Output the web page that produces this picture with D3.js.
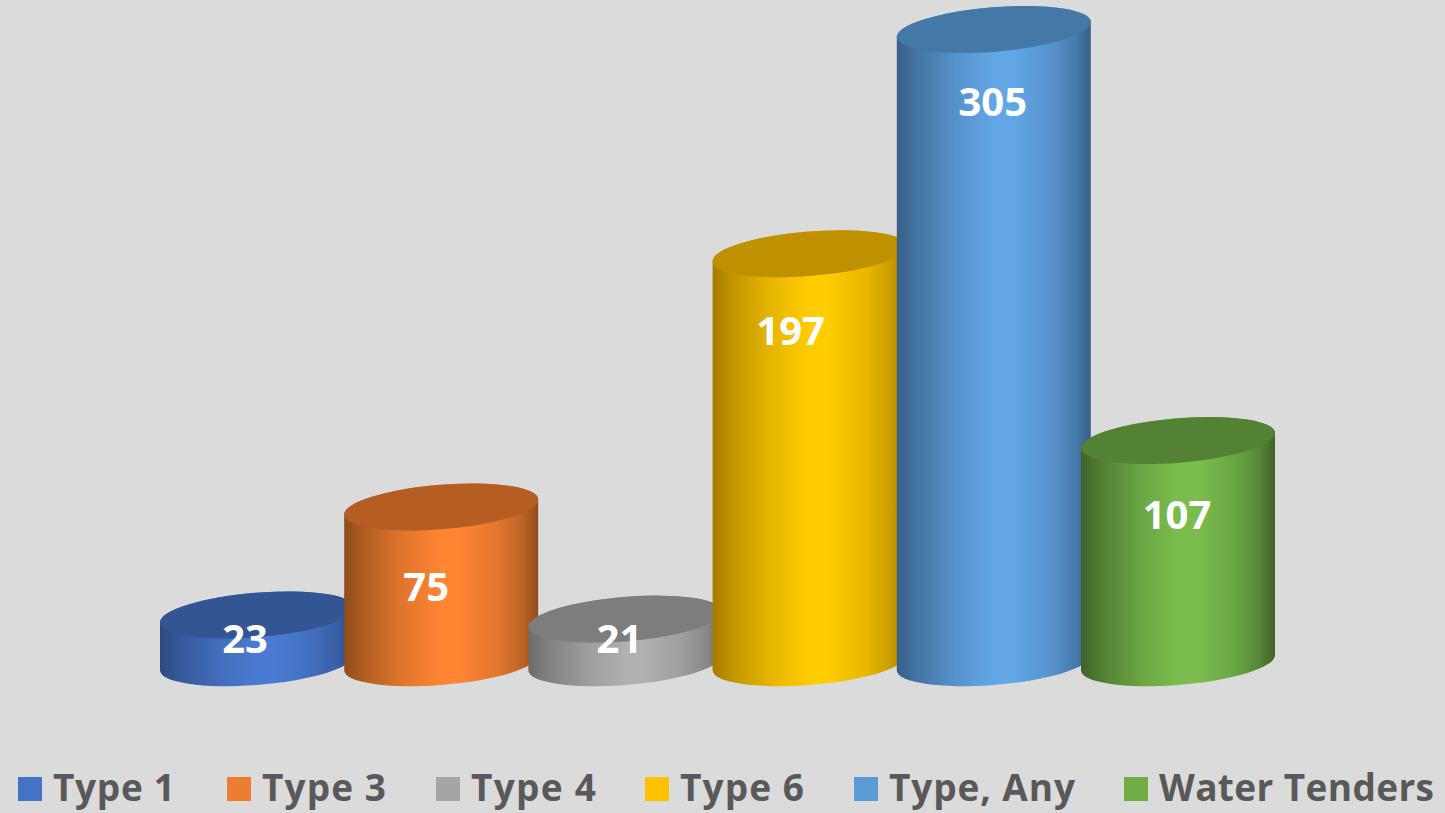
<!doctype html>
<html>
<head>
    <meta charset="UTF-8">
    <title>cylinders</title>
    <script src="https://d3js.org/d3.v7.min.js"></script>
    <style>
        html, body { margin: 0; padding: 0; background: #dbdbdb; }
        svg { display: block; }
        text { font-family: "Open Sans", sans-serif; font-weight: bold; }
    </style>
</head>
<body>
<svg width="1445" height="813"></svg>
<script>
    var categories = ["Type 1", "Type 3", "Type 4", "Type 6", "Type, Any", "Water Tenders"];
    var values = [23, 75, 21, 197, 305, 107];

    // side gradient runs dark > light > dark, top face is flat
    var sideLight = ["#4a7ad2", "#ff8533", "#b0b0b0", "#ffcc00", "#62a6e6", "#7abd4e"];
    var sideDark = ["#2c4a80", "#8f4c1c", "#6c6c6c", "#a67c00", "#365f85", "#3f6228"];
    var topFill = ["#335593", "#b55d22", "#7d7d7d", "#bf9000", "#4478a6", "#548235"];
    var swatch = ["#4472c4", "#ed7d31", "#a5a5a5", "#ffc000", "#5b9bd5", "#70ad47"];

    // layout
    var labelDx = [-12, -15, -6, -19, -1, -1];
    var labelDy = [24, 80, 19, 77, 72, 74];
    var legendX = [18, 227, 436, 645, 854, 1124];
    var legendW = [122, 124, 125, 124, 186, 275];

    var hx = 97, hy = 23.5, tilt = 7.5;   // half width, half height, tangent point offset
    var theta = 0.5 * Math.atan2(2 * tilt * hx, hx * hx - hy * hy);
    var d2 = (hx * hx - hy * hy) / Math.cos(2 * theta);
    var s2 = hx * hx + hy * hy;
    var rx = Math.sqrt((s2 + d2) / 2), ry = Math.sqrt((s2 - d2) / 2);
    var deg = -theta * 180 / Math.PI;

    var svg = d3.select("svg");
    var x = d3.scalePoint().domain(categories).range([257, 1178]);
    var y = d3.scaleLinear().domain([0, 305]).range([662.7, 29.5]);

    var defs = svg.append("defs");
    categories.forEach(function(c, i) {
        var g = defs.append("linearGradient").attr("id", "side" + i);
        var mix = d3.interpolateRgb(sideDark[i], sideLight[i]);
        [[0, 0], [0.1, 0.3], [0.3, 0.72], [0.5, 1], [0.6, 1], [0.8, 0.72], [0.92, 0.4], [1, 0]].forEach(function(s) {
            g.append("stop").attr("offset", s[0]).attr("stop-color", mix(s[1]));
        });
    });

    function sidePath(cx, yTop, yBase) {
        return "M" + (cx - hx) + "," + (yTop + tilt)
            + "L" + (cx - hx) + "," + (yBase + tilt)
            + "A" + rx + "," + ry + " " + deg + " 0 0 " + (cx + hx) + "," + (yBase - tilt)
            + "L" + (cx + hx) + "," + (yTop - tilt)
            + "A" + rx + "," + ry + " " + deg + " 0 0 " + (cx - hx) + "," + (yTop + tilt) + "Z";
    }

    // left to right, each one sits over the one before
    categories.forEach(function(c, i) {
        var cx = x(c);
        var yTop = y(values[i]);
        svg.append("path")
            .attr("d", sidePath(cx, yTop, y(0)))
            .attr("fill", "url(#side" + i + ")");
        svg.append("ellipse")
            .attr("rx", rx)
            .attr("ry", ry)
            .attr("transform", "translate(" + cx + "," + yTop + ") rotate(" + deg + ")")
            .attr("fill", topFill[i]);
    });

    categories.forEach(function(c, i) {
        svg.append("text")
            .attr("x", x(c) + labelDx[i])
            .attr("y", y(values[i]) + labelDy[i])
            .attr("dy", "0.36em")
            .attr("text-anchor", "middle")
            .attr("font-size", 40)
            .attr("fill", "#fff")
            .text(values[i]);
    });

    categories.forEach(function(c, i) {
        svg.append("rect")
            .attr("x", legendX[i])
            .attr("y", 777)
            .attr("width", 24)
            .attr("height", 24)
            .attr("fill", swatch[i]);
        svg.append("text")
            .attr("x", legendX[i] + 35)
            .attr("y", 801)
            .attr("font-size", 37)
            .attr("fill", "#595959")
            .attr("textLength", legendW[i])
            .attr("lengthAdjust", "spacing")
            .text(c);
    });
</script>
</body>
</html>
